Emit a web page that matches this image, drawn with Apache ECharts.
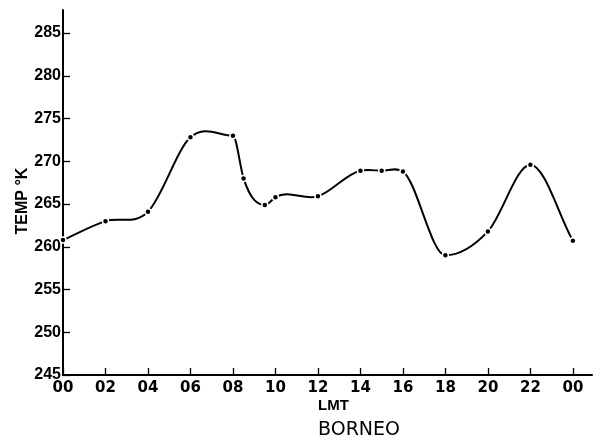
<!DOCTYPE html>
<html><head><meta charset="utf-8">
<script src="https://cdn.jsdelivr.net/npm/echarts@6/dist/echarts.min.js"></script>
<style>html,body{margin:0;padding:0;background:#fff}#c{width:600px;height:446px}</style>
</head><body><div id="c"></div>
<script>
const hours = [0, 2, 4, 6, 8, 8.5, 9.5, 10, 12, 14, 15, 16, 18, 20, 22, 24];
const temps = [260.8, 263.0, 264.1, 272.8, 273.0, 268.0, 264.9, 265.8, 265.9, 268.9, 268.9, 268.8, 259.0, 261.8, 269.6, 260.7];
const xTicks = [0, 2, 4, 6, 8, 10, 12, 14, 16, 18, 20, 22, 24];
const yTicks = [245, 250, 255, 260, 265, 270, 275, 280, 285];
const xTitle = 'LMT';
const yTitle = 'TEMP °K';
const chartTitle = 'BORNEO';

const n = hours.length;
// tangent (pixel space) at point i: 3-point parabolic derivative, zero at local extrema
function slopeAt(i, pts) {
  if (i === 0) return (pts[1][1] - pts[0][1]) / (pts[1][0] - pts[0][0]);
  if (i === n - 1) return (pts[n - 1][1] - pts[n - 2][1]) / (pts[n - 1][0] - pts[n - 2][0]);
  const a = temps[i - 1], b = temps[i], c = temps[i + 1];
  if ((b > a && b > c) || (b < a && b < c)) return 0;
  const h0 = pts[i][0] - pts[i - 1][0], h1 = pts[i + 1][0] - pts[i][0];
  const d0 = (pts[i][1] - pts[i - 1][1]) / h0, d1 = (pts[i + 1][1] - pts[i][1]) / h1;
  return (h1 * d0 + h0 * d1) / (h0 + h1);
}

const chart = echarts.init(document.getElementById('c'));
chart.setOption({
  animation: false,
  backgroundColor: '#fff',
  grid: { left: 63, right: 8, top: 10, bottom: 71 },
  xAxis: {
    type: 'value', min: 0, max: 24.9,
    axisLine: { lineStyle: { color: '#000', width: 2 } },
    axisTick: { inside: true, length: 7, lineStyle: { color: '#000', width: 1.3 }, customValues: xTicks },
    axisLabel: {
      customValues: xTicks, color: '#000', fontFamily: 'DejaVu Sans', fontWeight: 'bold', fontSize: 15, margin: 6,
      formatter: v => String(Math.round(v) % 24).padStart(2, '0')
    },
    splitLine: { show: false }
  },
  yAxis: {
    type: 'value', min: 245, max: 287.7,
    axisLine: { show: true, lineStyle: { color: '#000', width: 2 } },
    axisTick: { show: true, inside: true, length: 7, lineStyle: { color: '#000', width: 1.3 }, customValues: yTicks },
    axisLabel: { customValues: yTicks, color: '#000', fontFamily: 'Liberation Sans', fontWeight: 'bold', fontSize: 16, margin: 2 },
    splitLine: { show: false }
  },
  series: [{
    type: 'custom',
    data: hours.map((h, i) => [h, temps[i]]),
    encode: { x: 0, y: 1 },
    renderItem: function (params, api) {
      const i = params.dataIndex;
      if (i >= n - 1) return null;
      const pts = hours.map((h, k) => api.coord([h, temps[k]]));
      const p0 = pts[i], p1 = pts[i + 1];
      const dx = (p1[0] - p0[0]) / 3;
      const m0 = slopeAt(i, pts), m1 = slopeAt(i + 1, pts);
      return {
        type: 'bezierCurve',
        shape: { x1: p0[0], y1: p0[1], x2: p1[0], y2: p1[1],
          cpx1: p0[0] + dx, cpy1: p0[1] + dx * m0, cpx2: p1[0] - dx, cpy2: p1[1] - dx * m1 },
        style: { stroke: '#000', lineWidth: 2, fill: null }
      };
    },
    z: 2
  }, {
    type: 'scatter',
    data: hours.map((h, i) => [h, temps[i]]),
    symbol: 'circle', symbolSize: 6,
    itemStyle: { color: '#000', borderColor: '#fff', borderWidth: 1.5, opacity: 1 },
    z: 3
  }],
  graphic: [
    { type: 'text', left: 318, top: 398, style: { text: xTitle, fill: '#000', font: 'bold 15px "Liberation Sans"', textAlign: 'center' } },
    { type: 'text', left: 318, top: 421, style: { text: chartTitle, fill: '#000', font: '19px "DejaVu Sans"', textAlign: 'center' } },
    { type: 'text', x: 23, y: 201, rotation: Math.PI / 2,
      style: { text: yTitle, fill: '#000', font: 'bold 16px "Liberation Sans"', align: 'center', verticalAlign: 'middle' } }
  ]
});
</script></body></html>
